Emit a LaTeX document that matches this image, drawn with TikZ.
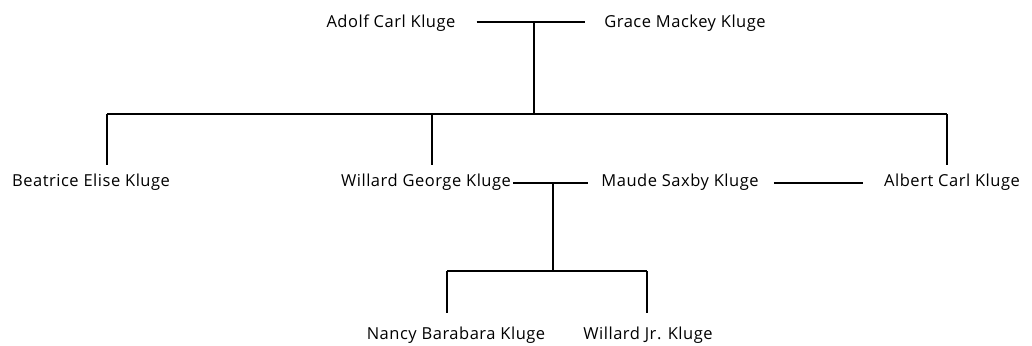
\documentclass[tikz,border=0pt]{standalone}
\usepackage{fontspec}
\setmainfont{Open Sans}[LetterSpace=3.2]
\usetikzlibrary{math}

\begin{document}
\begin{tikzpicture}[x=1pt,y=-1pt,
  person/.style={anchor=base,inner sep=0pt,text height=11pt,font=\fontsize{16.5}{19}\selectfont},
  line/.style={line width=1.3pt}]

\tikzmath{
\ya = 28;  % baseline, parents
\yb = 186; % baseline, children
\yc = 339; % baseline, grandchildren
\ba = 114; % bar of children
\bb = 271; % bar of grandchildren
}

\useasboundingbox (0,0) rectangle (1032,345);

%parents:
\node[person] (adolf) at (391,\ya) {Adolf Carl Kluge};
\node[person] (grace) at (685,\ya) {Grace Mackey Kluge};
%children:
\node[person] (beatrice) at (91,\yb) {Beatrice Elise Kluge};
\node[person] (willard) at (426,\yb) {Willard George Kluge};
\node[person] (maude) at (680,\yb) {Maude Saxby Kluge};
\node[person] (albert) at (952,\yb) {Albert Carl Kluge};
%grandchildren:
\node[person] (nancy) at (456,\yc) {Nancy Barabara Kluge};
\node[person] (willardjr) at (648,\yc) {Willard Jr. Kluge};

\coordinate (ma) at (534,22);
\coordinate (mb) at (553,183);
\coordinate (sa) at (107,\ba);
\coordinate (sb) at (432,\ba);
\coordinate (sc) at (947,\ba);
\coordinate (ga) at (447,\bb);
\coordinate (gb) at (647,\bb);

%marriages:
\draw[line] ([shift={(21,-6)}]adolf.base east) -- ([shift={(-19,-6)}]grace.base west);
\draw[line] ([shift={(2,-3)}]willard.base east) -- ([shift={(-13,-3)}]maude.base west);
\draw[line] ([shift={(15,-3)}]maude.base east) -- ([shift={(-21,-3)}]albert.base west);

%descent:
\draw[line] (ma) -- (ma |- sa);
\draw[line] (sa) -- (sc);
\draw[line,shorten >=10pt] (sa) -- (sa |- beatrice.north);
\draw[line,shorten >=10pt] (sb) -- (sb |- willard.north);
\draw[line,shorten >=10pt] (sc) -- (sc |- albert.north);

\draw[line] (mb) -- (mb |- ga);
\draw[line] (ga) -- (gb);
\draw[line,shorten >=15pt] (ga) -- (ga |- nancy.north);
\draw[line,shorten >=15pt] (gb) -- (gb |- willardjr.north);

\end{tikzpicture}
\end{document}
